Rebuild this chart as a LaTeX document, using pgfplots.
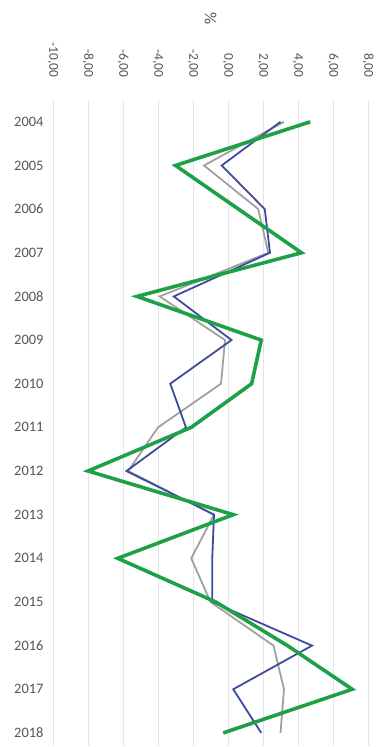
\documentclass[border=0pt]{standalone}
\usepackage{fontspec}
\setmainfont{Carlito}
\usepackage{pgfplots}
\pgfplotsset{compat=1.18}
\definecolor{cblue}{RGB}{60,75,160}
\definecolor{cgray}{RGB}{160,160,160}
\definecolor{cgreen}{RGB}{30,160,70}
\definecolor{ctxt}{RGB}{85,85,85}
\begin{document}
\begin{tikzpicture}
\useasboundingbox (0,0) rectangle (382bp,747bp);
\begin{axis}[
  at={(53bp,1bp)}, anchor=south west,
  scale only axis=true,
  width=315bp, height=646bp,
  xmin=-10, xmax=8,
  ymin=2003.5, ymax=2018.3,
  y dir=reverse,
  axis line style={draw=none},
  tick style={draw=none},
  xtick={-10,-8,...,8},
  xticklabels={{-10,00},{-8,00},{-6,00},{-4,00},{-2,00},{0,00},{2,00},{4,00},{6,00},{8,00}},
  ytick={2004,...,2018},
  yticklabels={2004,2005,2006,2007,2008,2009,2010,2011,2012,2013,2014,2015,2016,2017,2018},
  xticklabel pos=top,
  xmajorgrids,
  major grid style={gray!20, line width=0.8pt},
  xticklabel style={rotate=-90, anchor=east, font=\fontsize{13.5}{13.5}\selectfont, text=ctxt},
  xticklabel shift=19bp,
  yticklabel style={font=\fontsize{14.5}{14.5}\selectfont, text=ctxt},
  yticklabel shift=6bp,
  title={\rotatebox{-90}{\%}},
  title style={font=\fontsize{17}{17}\selectfont, text=ctxt, at={(0.5,1)}, anchor=south, yshift=66bp},
  clip=false,
]
\addplot[cgray, line width=1.8pt] coordinates {
(3.2,2004) (-1.37,2005) (1.73,2006) (2.3,2007) (-3.9,2008) (-0.17,2009) (-0.4,2010) (-4.0,2011) (-5.7,2012) (-0.8,2013) (-2.1,2014) (-1.0,2015) (2.6,2016) (3.2,2017) (3.0,2018)};
\addplot[cblue, line width=1.8pt] coordinates {
(3.0,2004) (-0.36,2005) (2.1,2006) (2.4,2007) (-3.1,2008) (0.2,2009) (-3.3,2010) (-2.4,2011) (-5.8,2012) (-0.8,2013) (-0.9,2014) (-0.9,2015) (4.8,2016) (0.3,2017) (1.9,2018)};
\addplot[cgreen, line width=3.6pt] coordinates {
(4.7,2004) (-3.0,2005) (0.6,2006) (4.2,2007) (-5.2,2008) (1.9,2009) (1.35,2010) (-2.1,2011) (-8.0,2012) (0.3,2013) (-6.3,2014) (-0.7,2015) (3.4,2016) (7.1,2017) (-0.27,2018)};
\end{axis}
\end{tikzpicture}
\end{document}
